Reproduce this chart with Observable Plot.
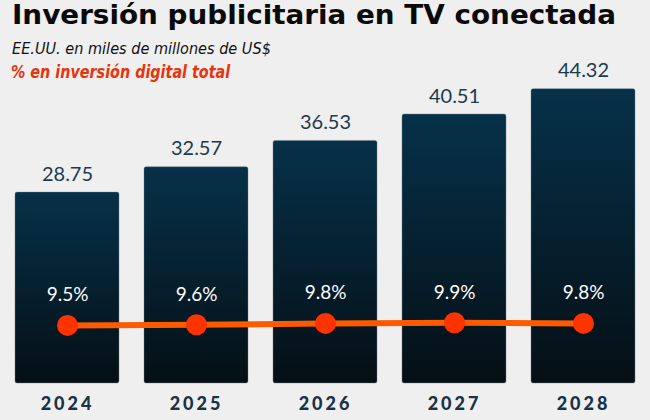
<!DOCTYPE html>
<html>
<head>
<meta charset="utf-8">
<script src="https://cdn.jsdelivr.net/npm/d3@7"></script>
<script src="https://cdn.jsdelivr.net/npm/@observablehq/plot@0.6"></script>
<style>
  html, body { margin: 0; padding: 0; background: #efeff0; }
  #wrap { position: relative; width: 650px; height: 420px; overflow: hidden; }
  #head { position: absolute; left: 0; top: 0; pointer-events: none; }
  #head div { position: absolute; white-space: nowrap; transform-origin: 0 0; font-family: "DejaVu Sans", sans-serif; }
  #title { left: 12px; top: -1px; font-weight: bold; font-size: 27px; color: #0a0a0a; transform: scaleX(1.03); }
  #sub { left: 12px; top: 39px; font-style: italic; font-size: 16px; color: #111; transform: scaleX(0.905); }
  #sub2 { left: 11px; top: 62px; font-style: italic; font-weight: bold; font-size: 17.5px; color: #e8340c; transform: scaleX(0.82); }
  g[aria-label="x-axis tick label"] text { letter-spacing: 3px; }
</style>
</head>
<body>
<div id="wrap">
  <div id="chart"></div>
  <div id="head">
    <div id="title">Inversión publicitaria en TV conectada</div>
    <div id="sub">EE.UU. en miles de millones de US$</div>
    <div id="sub2">% en inversión digital total</div>
  </div>
</div>
<script>
const years = ["2024", "2025", "2026", "2027", "2028"];
const spend = [28.75, 32.57, 36.53, 40.51, 44.32];
const share = [9.5, 9.6, 9.8, 9.9, 9.8];
const shareLabels = ["9.5%", "9.6%", "9.8%", "9.9%", "9.8%"];
const spendLabels = ["28.75", "32.57", "36.53", "40.51", "44.32"];

const data = years.map((y, i) => ({
  year: y, spend: spend[i], share: share[i],
  shareLabel: shareLabels[i], spendLabel: spendLabels[i]
}));

const plot = Plot.plot({
  width: 650,
  height: 420,
  marginLeft: 15,
  marginRight: 15,
  marginTop: 51,
  marginBottom: 37,
  style: { background: "transparent", overflow: "visible" },
  x: { domain: years, paddingInner: 0.194, paddingOuter: 0, label: null },
  y: { domain: [0, 50], axis: null },
  marks: [
    () => {
      const svg = d3.create("svg:defs");
      const g = svg.append("linearGradient").attr("id", "barGrad").attr("x1", 0).attr("y1", 0).attr("x2", 0).attr("y2", 1);
      g.append("stop").attr("offset", "0%").attr("stop-color", "#063149");
      g.append("stop").attr("offset", "100%").attr("stop-color", "#050f15");
      return svg.node();
    },
    Plot.barY(data, {
      x: "year", y: "spend", fill: "url(#barGrad)",
      rx: 2, stroke: "#6b7c86", strokeOpacity: 0.4, strokeWidth: 1
    }),
    Plot.text(data, {
      x: "year", y: "spend", text: "spendLabel", lineAnchor: "bottom", dy: -12,
      fontSize: 20, fontFamily: "Lato, sans-serif", fill: "#1c3a4e"
    }),
    Plot.line(data, {
      x: "year", y: "share", dy: 5, stroke: "#ff5a00", strokeWidth: 6, curve: "linear"
    }),
    Plot.dot(data, {
      x: "year", y: "share", dy: 5, r: 10.5, fill: "#ff3300", stroke: "none"
    }),
    Plot.text(data, {
      x: "year", y: "share", text: "shareLabel", lineAnchor: "bottom", dy: -19,
      fontSize: 19, fontFamily: "Lato, sans-serif", fill: "#ffffff"
    }),
    Plot.axisX({
      tickSize: 0, tickPadding: 14, fontSize: 18, fontWeight: 900,
      fontFamily: "Lato, sans-serif", fill: "#1a3245", label: null
    })
  ]
});
document.getElementById("chart").appendChild(plot);
</script>
</body>
</html>
